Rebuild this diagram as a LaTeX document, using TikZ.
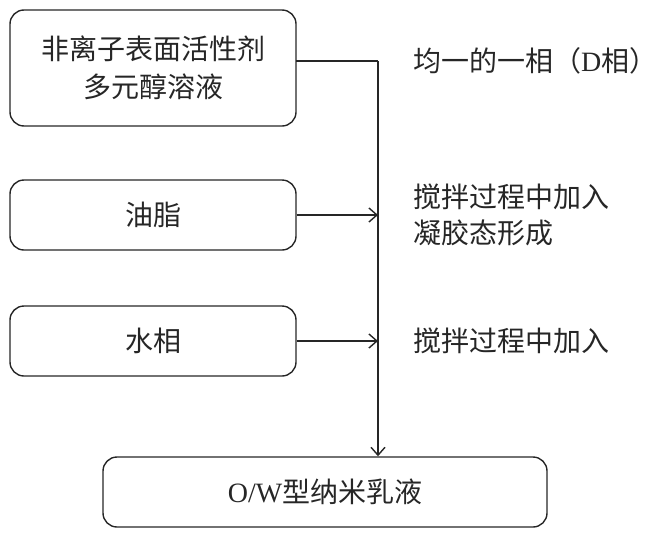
\documentclass[tikz,border=0pt]{standalone}
\usepackage{fontspec}
\setmainfont{Liberation Serif}
\newfontfamily\cjk{Noto Sans CJK SC}
\usetikzlibrary{arrows.meta}
\begin{document}
\begin{tikzpicture}[x=1pt,y=-1pt,
  box/.style={draw=black!85,line width=1.4pt,rounded corners=14pt,inner sep=0pt,
    align=center,font=\fontsize{28}{38}\selectfont\cjk,text=black!85},
  lbl/.style={anchor=west,inner sep=0pt,align=left,font=\fontsize{28}{36}\selectfont\cjk,text=black!85},
  conn/.style={draw=black!85,line width=1.5pt},
  arr/.style={conn,-{Straight Barb[length=8pt,width=14pt,line width=1.4pt]}}]
\useasboundingbox (0,0) rectangle (660,541);
\node[box,minimum width=286pt,minimum height=116pt] (b1) at (153,68) {非离子表面活性剂\\多元醇溶液};
\node[box,minimum width=286pt,minimum height=70pt] (b2) at (153,215) {油脂};
\node[box,minimum width=286pt,minimum height=70pt] (b3) at (153,341) {水相};
\node[box,minimum width=444pt,minimum height=70pt] (b4) at (325,492) {{\rmfamily O/W}型纳米乳液};
\coordinate (j) at (378,61);
\coordinate (s1) at (296,61);
\draw[conn] (s1) -- (j);
\draw[arr] (j) -- (b4.north -| j);
\draw[arr] (b2.east) -- (b2.east -| j);
\draw[arr] (b3.east) -- (b3.east -| j);
\node[lbl] (l1) at (413,61) {均一的一相（{\rmfamily D}相）};
\node[lbl] (l2) at (413,215) {搅拌过程中加入\\凝胶态形成};
\node[lbl] (l3) at (413,341) {搅拌过程中加入};
\end{tikzpicture}
\end{document}
